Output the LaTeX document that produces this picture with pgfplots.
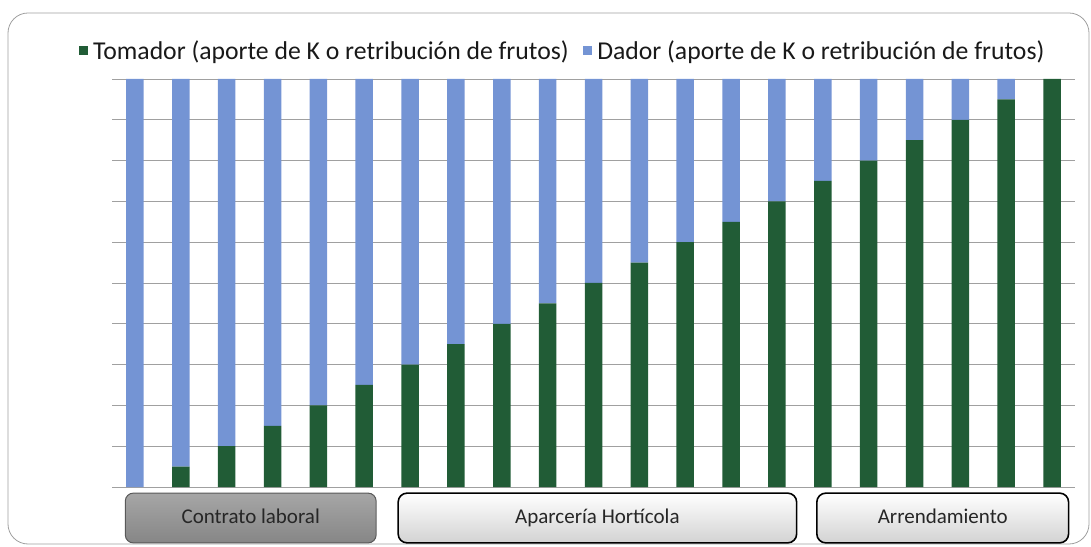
\documentclass[border=0pt]{standalone}
\usepackage{pgfplots}
\pgfplotsset{compat=1.18}
\usetikzlibrary{calc}
\usepackage{fontspec}
\setmainfont{Carlito}
\definecolor{tomador}{HTML}{215C36}
\definecolor{dador}{HTML}{7494D4}
\definecolor{gridc}{HTML}{A0A0A0}
\definecolor{boxtxt}{HTML}{262626}
\definecolor{gtop}{HTML}{A6A6A6}
\definecolor{gbot}{HTML}{868686}

\begin{document}
\begin{tikzpicture}[x=1pt,y=1pt,
  boxlabel/.style={text=boxtxt, font=\fontsize{21}{24}\selectfont, text height=14pt, text depth=4pt, inner sep=0pt}]
\path[use as bounding box] (0,0) rectangle (1091,546);
\draw[gray!75, line width=0.8pt, rounded corners=20pt] (8,2) rectangle (1089,533);
\begin{axis}[
  at={(112pt,59pt)}, anchor=south west,
  scale only axis, width=963pt, height=408pt,
  ybar stacked, bar width=17.5pt,
  xmin=-0.5, xmax=20.5, ymin=0, ymax=100,
  ytick={0,10,...,100}, yticklabels={}, xtick=\empty,
  ymajorgrids, major grid style={gridc, line width=0.8pt},
  axis line style={draw=none}, tick style={draw=none},
  clip=false,
  legend columns=2,
  legend style={draw=none, fill=none, at={(-0.038,1.069)}, anchor=west,
    font=\fontsize{25.7}{29}\selectfont, text=black!90,
    /tikz/every even column/.append style={column sep=12pt}},
  legend image code/.code={\fill[#1] (0pt,-4.5pt) rectangle (9.5pt,5pt);\path (12.5pt,0pt);},
]
\addplot[fill=tomador, draw=none] coordinates {
(0,0) (1,5) (2,10) (3,15) (4,20) (5,25) (6,30) (7,35) (8,40) (9,45) (10,50)
(11,55) (12,60) (13,65) (14,70) (15,75) (16,80) (17,85) (18,90) (19,95) (20,100)};
\addplot[fill=dador, draw=none] coordinates {
(0,100) (1,95) (2,90) (3,85) (4,80) (5,75) (6,70) (7,65) (8,60) (9,55) (10,50)
(11,45) (12,40) (13,35) (14,30) (15,25) (16,20) (17,15) (18,10) (19,5) (20,0)};
\legend{Tomador (aporte de K o retribución de frutos), Dador (aporte de K o retribución de frutos)}
\coordinate (a1) at (axis cs:-0.21,-1.5);
\coordinate (a2) at (axis cs:5.26,-13.7);
\coordinate (b1) at (axis cs:5.74,-1.5);
\coordinate (b2) at (axis cs:14.43,-13.7);
\coordinate (c1) at (axis cs:14.87,-1.5);
\coordinate (c2) at (axis cs:20.36,-13.7);
\end{axis}
\shade[top color=gtop, bottom color=gbot, draw=black!65, line width=1pt, rounded corners=8pt]
  (a1) rectangle (a2);
\node[boxlabel] at ($(a1)!0.5!(a2)$) {Contrato laboral};
\shade[top color=white, bottom color=gray!35, draw=black, line width=1.6pt, rounded corners=9pt]
  (b1) rectangle (b2);
\node[boxlabel] at ($(b1)!0.5!(b2)$) {Aparcería Hortícola};
\shade[top color=white, bottom color=gray!35, draw=black, line width=1.6pt, rounded corners=9pt]
  (c1) rectangle (c2);
\node[boxlabel] at ($(c1)!0.5!(c2)$) {Arrendamiento};
\end{tikzpicture}
\end{document}
